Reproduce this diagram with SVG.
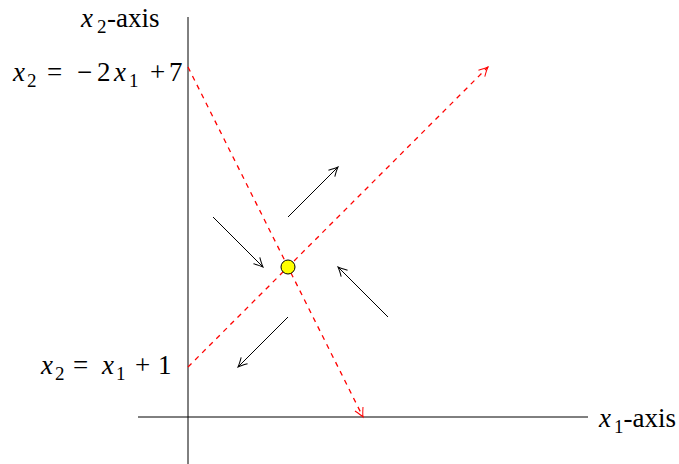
<svg xmlns="http://www.w3.org/2000/svg" width="679" height="464" viewBox="0 0 679 464">
<style>
.ax{stroke:#000;stroke-width:1;fill:none}
.red{stroke:#f00;stroke-width:1.3;stroke-dasharray:5,5;fill:none}
.arr{stroke:#000;stroke-width:1;fill:none}
text{font-family:"Liberation Serif","DejaVu Serif",serif;font-size:27px;fill:#000}
.i{font-style:italic}
</style>
<defs>
<marker id="hb" viewBox="-10 -6 12 12" markerWidth="12" markerHeight="12" refX="0" refY="0" orient="auto" markerUnits="userSpaceOnUse">
<path d="M-9,-4.5 Q-3,-1 0,0 Q-3,1 -9,4.5" stroke="#000" stroke-width="1" fill="none"/>
</marker>
<marker id="hr" viewBox="-10 -6 12 12" markerWidth="12" markerHeight="12" refX="0" refY="0" orient="auto" markerUnits="userSpaceOnUse">
<path d="M-9,-4.5 Q-3,-1 0,0 Q-3,1 -9,4.5" stroke="#f00" stroke-width="1" fill="none"/>
</marker>
</defs>
<g id="axes">
<line class="ax" x1="188" y1="17" x2="188" y2="464"/>
<line class="ax" x1="138" y1="417" x2="588" y2="417"/>
</g>
<g id="connectors">
<line class="red" x1="188" y1="67" x2="363" y2="417" marker-end="url(#hr)"/>
<line class="red" x1="188" y1="367" x2="488" y2="67" marker-end="url(#hr)"/>
<line class="arr" x1="213" y1="217" x2="263" y2="267" marker-end="url(#hb)"/>
<line class="arr" x1="288" y1="217" x2="338" y2="167" marker-end="url(#hb)"/>
<line class="arr" x1="388" y1="317" x2="338" y2="267" marker-end="url(#hb)"/>
<line class="arr" x1="288" y1="317" x2="238" y2="367" marker-end="url(#hb)"/>
</g>
<g id="point">
<circle cx="288" cy="267" r="7" fill="#ff0" stroke="#000" stroke-width="1"/>
</g>
<g id="labels">
<text x="81" y="27"><tspan class="i">x</tspan><tspan font-size="19" dx="4" dy="6">2</tspan><tspan dx="0.5" dy="-6">-axis</tspan></text>
<text x="13" y="81"><tspan class="i">x</tspan><tspan font-size="19" dx="2" dy="6">2</tspan><tspan dx="10.5" dy="-6">=</tspan><tspan dx="14.8">−</tspan><tspan dx="4.8">2</tspan><tspan class="i" dx="3.5">x</tspan><tspan font-size="19" dx="3" dy="6">1</tspan><tspan dx="11.5" dy="-6">+</tspan><tspan dx="3.8">7</tspan></text>
<text x="41" y="374"><tspan class="i">x</tspan><tspan font-size="19" dx="2" dy="6">2</tspan><tspan dx="8.5" dy="-6">=</tspan><tspan class="i" dx="13.8">x</tspan><tspan font-size="19" dx="2" dy="6">1</tspan><tspan dx="9.5" dy="-6">+</tspan><tspan dx="7.8">1</tspan></text>
<text x="599" y="427"><tspan class="i">x</tspan><tspan font-size="19" dx="3" dy="6">1</tspan><tspan dy="-6">-axis</tspan></text>
</g>
</svg>
